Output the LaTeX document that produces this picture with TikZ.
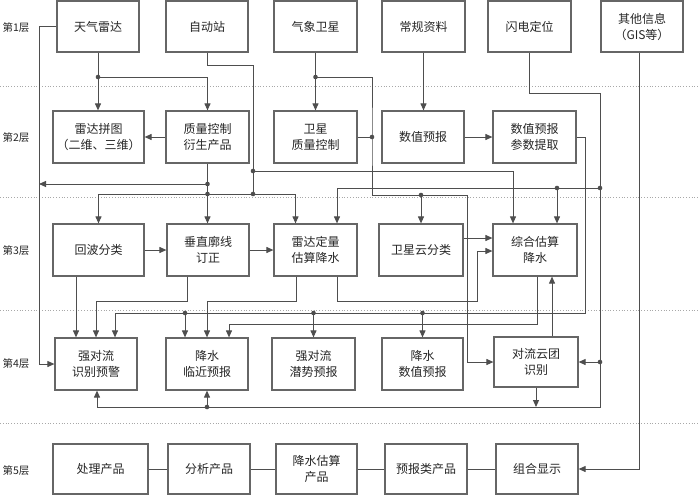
\documentclass[tikz,border=0pt]{standalone}
\usepackage{fontspec}
\setmainfont{Noto Sans CJK SC}
\usetikzlibrary{arrows.meta,calc}
\definecolor{ln}{HTML}{4E4E4E}
\definecolor{bx}{HTML}{666666}
\definecolor{tx}{HTML}{262626}
\definecolor{sepc}{HTML}{A8A8A8}
\tikzset{
  box/.style={draw=bx,line width=1.2pt,align=center,inner sep=0pt,
    font=\fontsize{12}{16}\selectfont,text=tx},
  arr/.style={ln,line width=1pt,-{Triangle[length=7pt,width=6pt]}},
  wire/.style={ln,line width=1pt},
  sepline/.style={sepc,dotted,line width=0.8pt},
  layer/.style={font=\fontsize{10.5}{12}\selectfont,text=tx,inner sep=0pt}
}
\newcommand\bx[6]{\node[box,minimum width=#4pt,minimum height=#5pt] (#1) at (#2,#3) {#6};}
\newcommand\jdot[1]{\fill[ln] (#1) circle (2.3pt);}
\begin{document}
\begin{tikzpicture}[x=1pt,y=-1pt]
\useasboundingbox (0,0) rectangle (700,498);
\fill[white] (0,0) rectangle (700,498);

% separators
\draw[sepline] (0,86) -- (700,86);
\draw[sepline] (0,197) -- (700,197);
\draw[sepline] (0,310) -- (700,310);
\draw[sepline] (0,423) -- (700,423);

% layer labels
\node[layer] (L1) at (16,28) {第1层};
\node[layer] (L2) at (16,138) {第2层};
\node[layer] (L3) at (16,251) {第3层};
\node[layer] (L4) at (16,364) {第4层};
\node[layer] (L5) at (16,471) {第5层};

% row 1
\bx{r1a}{98}{26.5}{82}{51}{天气雷达}
\bx{r1b}{207}{26.5}{82}{51}{自动站}
\bx{r1c}{315.5}{26.5}{83}{51}{气象卫星}
\bx{r1d}{423.5}{26.5}{83}{51}{常规资料}
\bx{r1e}{529.5}{26.5}{83}{51}{闪电定位}
\bx{r1f}{642}{26.5}{82}{51}{其他信息\\（GIS等）}
% row 2
\bx{r2a}{98.5}{137}{91}{52}{雷达拼图\\（二维、三维）}
\bx{r2b}{207.5}{137}{83}{52}{质量控制\\衍生产品}
\bx{r2c}{315.5}{137}{83}{52}{卫星\\质量控制}
\bx{r2d}{423}{137}{82}{52}{数值预报}
\bx{r2e}{534.5}{137}{83}{52}{数值预报\\参数提取}
% row 3
\bx{r3a}{98.5}{250}{91}{52}{回波分类}
\bx{r3b}{208}{250}{82}{52}{垂直廓线\\订正}
\bx{r3c}{315.5}{250}{83}{52}{雷达定量\\估算降水}
\bx{r3d}{421}{250}{84}{52}{卫星云分类}
\bx{r3e}{535}{250}{84}{52}{综合估算\\降水}
% row 4
\bx{r4a}{96}{364}{82}{52}{强对流\\识别预警}
\bx{r4b}{207}{364}{82}{52}{降水\\临近预报}
\bx{r4c}{313.5}{364}{83}{52}{强对流\\潜势预报}
\bx{r4d}{422.5}{364}{81}{52}{降水\\数值预报}
\bx{r4e}{536}{362}{84}{50}{对流云团\\识别}
% row 5
\bx{r5a}{100.5}{469}{95}{50}{处理产品}
\bx{r5b}{209}{469}{82}{50}{分析产品}
\bx{r5c}{316.5}{469}{81}{50}{降水估算\\产品}
\bx{r5d}{426}{469}{82}{50}{预报类产品}
\bx{r5e}{537}{469}{82}{50}{组合显示}

% junction coordinates
\coordinate (j1) at (98,77);
\coordinate (lx) at (39,27);
\coordinate (j3) at (253,171);
\coordinate (j4) at (253,194);
\coordinate (j5) at (207.5,184);
\coordinate (j6) at (207.5,194);
\coordinate (j7) at (315.5,77);
\coordinate (j8) at (372,137);
\coordinate (j9) at (421,195);
\coordinate (sx) at (467,195);
\coordinate (px) at (585,313);
\coordinate (k1) at (185,313);
\coordinate (k2) at (313.5,313);
\coordinate (k3) at (422.5,313);
\coordinate (lz) at (600,93);
\coordinate (bz) at (600,407);
\coordinate (m1) at (600,188);
\coordinate (m2) at (600,362);
\coordinate (m3) at (207,407);
\coordinate (m4) at (557,188);
\coordinate (q1) at (477,251);

% radar
\draw[arr] (r1a.south) -- (r1a.south |- r2a.north);
\draw[arr] (j1) -| (r2b.north);
\draw[arr] (r1a.west) -| (lx |- r4a.west) -- (r4a.west);
% auto station
\draw[wire] (r1b.south) -- ++(0,13) -| (j4);
\draw[arr] (j3) -| ([xshift=-22pt]r3e.north);
% quality control
\draw[arr] (r2b.west) -- (r2a.east);
\draw[arr] (r2b.south) -- (r2b.south |- r3b.north);
\draw[arr] (j5) -- (lx |- j5);
\draw[arr] (j6) -| (r3a.north);
\draw[arr] (j6) -| ([xshift=-20pt]r3c.north);
% satellite
\draw[arr] (r1c.south) -- (r1c.south |- r2c.north);
\draw[arr] (j7) -| (j8) |- (sx) |- (r4e.west);
\draw[wire] (r2c.east) -- (j8);
\draw[arr] (j9) -- (j9 |- r3d.north);
% conventional / NWP
\draw[arr] (r1d.south) -- (r1d.south |- r2d.north);
\draw[arr] (r2d.east) -- (r2e.west);
\draw[arr] (r2e.east) -| (px) -| ([xshift=19pt]r4a.north);
\draw[arr] (k1) -- (k1 |- r4b.north);
\draw[arr] (k2) -- (r4c.north);
\draw[arr] (k3) -- (r4d.north);
% lightning
\draw[arr] (r1e.south) |- (lz) -- (bz) -| ([xshift=1pt]r4a.south);
\draw[arr] (m1) -| ([xshift=21.5pt]r3c.north);
\draw[arr] (m4) -- (m4 |- r3e.north);
\draw[arr] (m2) -- (r4e.east);
\draw[arr] (m3) -- (r4b.south);
\draw[arr] (r4e.south) -- (r4e.south |- bz);
% row 3 horizontals
\draw[arr] (r3a.east) -- (r3b.west);
\draw[arr] (r3b.east) -- (r3c.west);
\draw[arr] ([yshift=12pt]r3d.east) -- ([yshift=12pt]r3d.east -| r3e.west);
\draw[arr] ([xshift=21.5pt]r3c.south) -- ++(0,25) -| (q1) -- (q1 -| r3e.west);
% row 3 to row 4
\draw[arr] ([xshift=-22.5pt]r3a.south) -- ([xshift=-22.5pt]r3a.south |- r4a.north);
\draw[arr] ([xshift=-21pt]r3b.south) -- ++(0,25) -| (r4a.north);
\draw[arr] ([xshift=-19.5pt]r3c.south) -- ++(0,25) -| (r4b.north);
\draw[arr] ([xshift=2pt]r3e.south) -- ++(0,48) -| ([xshift=22pt]r4b.north);
\draw[arr] ([xshift=16pt]r4e.north) -- ([xshift=16pt]r4e.north |- r3e.south);
% other info
\draw[arr] ([xshift=-3pt]r1f.south) |- (r5e.east);
% row 5
\draw[wire] (r5a) -- (r5b);
\draw[wire] (r5b) -- (r5c);
\draw[wire] (r5c) -- (r5d);
\draw[wire] (r5d) -- (r5e);

% dots
\jdot{j1}\jdot{j3}\jdot{j4}\jdot{j5}\jdot{j6}\jdot{j7}\jdot{j8}\jdot{j9}
\jdot{k1}\jdot{k2}\jdot{k3}\jdot{m1}\jdot{m2}\jdot{m3}\jdot{m4}
\end{tikzpicture}
\end{document}
